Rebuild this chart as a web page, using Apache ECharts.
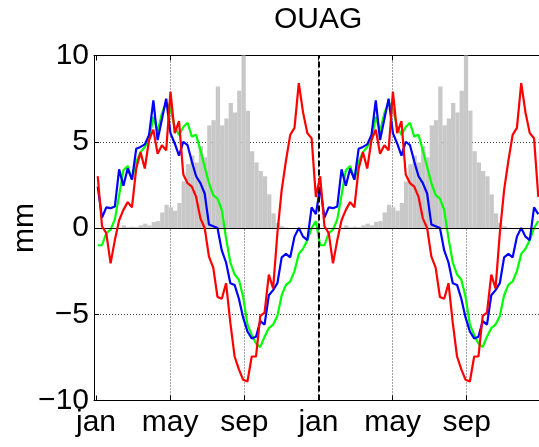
<!DOCTYPE html>
<html>
<head>
<meta charset="utf-8">
<script src="https://cdn.jsdelivr.net/npm/echarts@6/dist/echarts.min.js"></script>
<style>
  html, body { margin: 0; padding: 0; background: #fff; }
  #chart { width: 539px; height: 447px; }
</style>
</head>
<body>
<div id="chart"></div>
<script>
// Weekly climatology for one year (52 weeks); the annual cycle is shown twice.
const weeksPerYear = 52;
const yearsShown = 2;

// Rainfall (grey bars), weeks 1..52
const rainBars = [
  0, 0, 0, 0, 0, 0.03, 0.15, 0.05, 0.08, 0.05,
  0.15, 0.25, 0.15, 0.35, 0.4, 0.9, 1.35, 1.2, 1.0, 1.45,
  2.7, 3.7, 4.2, 3.8, 4.75, 4.1, 5.95, 6.25, 8.2, 5.95,
  6.35, 7.25, 6.7, 7.95, 10.0, 6.8, 4.45, 3.8, 3.3, 3.0,
  1.95, 0.85, 0.3, 0.1, 0.02, 0, 0, 0, 0, 0,
  0, 0
];

// Red curve
const redLine = [
  3.0, 0.1, -0.3, -2.05, -0.7, 0.45, 1.05, 1.5, 1.2, 3.45,
  4.4, 3.45, 5.1, 5.7, 4.3, 4.8, 4.5, 7.9, 5.5, 6.2,
  3.1, 2.6, 2.4, 1.8, 0.56, 0.0, -1.66, -2.3, -4.0, -4.1,
  -3.2, -5.5, -7.45, -8.2, -8.8, -8.9, -7.45, -7.45, -5.1, -4.9,
  -2.7, -3.5, -0.3, 2.2, 3.9, 5.4, 5.8, 8.4, 6.7, 5.5,
  5.2, 1.8
];

// Green curve
const greenLine = [
  -1.0, -1.0, -0.3, -0.1, 0.5, 1.9, 3.35, 3.6, 2.8, 3.85,
  4.4, 4.7, 5.1, 6.45, 5.6, 6.65, 7.3, 6.9, 5.85, 5.4,
  5.85, 6.1, 5.3, 5.4, 4.5, 3.55, 2.6, 1.9, 1.7, 1.05,
  -0.6, -2.0, -2.7, -3.0, -4.0, -5.6, -6.2, -6.7, -6.9, -6.3,
  -5.8, -5.6, -5.1, -3.9, -3.3, -3.1, -2.5, -1.5, -1.2, -0.7,
  0.0, 0.4
];

// Blue curve
const blueLine = [
  2.4, 0.6, 1.2, 1.15, 1.25, 3.4, 2.45, 3.45, 2.8, 4.6,
  4.7, 4.85, 5.4, 7.4, 5.1, 6.3, 7.5, 5.5, 4.9, 4.2,
  5.0, 4.8, 3.85, 3.0, 2.6, 2.0, 0.2, 0.1, 0.0, -1.3,
  -2.0, -3.2, -3.3, -4.1, -5.2, -6.0, -6.4, -6.3, -5.4, -5.6,
  -3.9, -3.6, -3.2, -1.7, -1.5, -1.7, -0.5, 0.0, -0.5, -0.7,
  1.2, 0.8
];

// Month ticks (axis unit: months since 1 January of the first year)
const monthTicks = [0, 4, 8, 12, 16, 20];
const monthLabels = ['jan', 'may', 'sep', 'jan', 'may', 'sep'];
const yTicks = [-10, -5, 0, 5, 10];

const weekToMonth = w => w * 12 / weeksPerYear;

function repeatYears(values, offset) {
  const out = [];
  for (let y = 0; y < yearsShown; y++) {
    values.forEach((v, i) => {
      out.push([weekToMonth(y * weeksPerYear + i + offset), v]);
    });
  }
  return out;
}

const fontFamily = '"Liberation Sans", Arial, Helvetica, sans-serif';
const fontSize = 30;
const gridColor = '#444';
const dotted = { color: gridColor, width: 1, type: [1, 2] };
// vertical grid: no dotted line on the first january (it sits on the box edge)
const dottedX = {
  color: monthTicks.map((m, k) => (k === 0 ? 'rgba(0,0,0,0)' : gridColor)),
  width: 1,
  type: [1, 2]
};

const chart = echarts.init(document.getElementById('chart'), null, { renderer: 'canvas' });

chart.setOption({
  animation: false,
  backgroundColor: '#fff',
  textStyle: { fontFamily: fontFamily },
  title: {
    text: 'OUAG',
    left: 274,
    top: 5,
    padding: 0,
    textStyle: { fontFamily: fontFamily, fontSize: fontSize, fontWeight: 'normal', color: '#000', lineHeight: fontSize }
  },
  grid: { left: 94, right: -3, top: 55.5, bottom: 46.5, containLabel: false, outerBoundsMode: 'none' },
  xAxis: [
    {
      type: 'value',
      position: 'bottom',
      min: -0.11,
      max: 24.06,
      axisLine: { show: true, onZero: false, lineStyle: { color: '#000', width: 1 } },
      axisTick: { show: true, inside: true, length: 5, customValues: monthTicks, lineStyle: { color: '#000' } },
      axisLabel: {
        show: true,
        customValues: monthTicks,
        margin: 7,
        fontSize: fontSize,
        lineHeight: fontSize,
        color: '#000',
        fontFamily: fontFamily,
        formatter: v => monthLabels[Math.round(v / 4)] || ''
      },
      splitLine: { show: true, lineStyle: dottedX }
    },
    {
      type: 'value',
      position: 'top',
      min: -0.11,
      max: 24.06,
      axisLine: { show: true, onZero: false, lineStyle: { color: '#000', width: 1 } },
      axisTick: { show: true, inside: true, length: 5, customValues: monthTicks, lineStyle: { color: '#000' } },
      axisLabel: { show: false },
      splitLine: { show: false }
    }
  ],
  yAxis: {
    type: 'value',
    min: yTicks[0],
    max: yTicks[yTicks.length - 1],
    interval: 5,
    name: 'mm',
    nameLocation: 'middle',
    nameGap: 54,
    nameMoveOverlap: false,
    nameTextStyle: { fontFamily: fontFamily, fontSize: fontSize, color: '#000', lineHeight: fontSize },
    axisLine: { show: true, onZero: false, lineStyle: { color: '#000', width: 1 } },
    axisTick: { show: true, inside: true, length: 5, lineStyle: { color: '#000' } },
    axisLabel: {
      margin: 5,
      fontSize: fontSize,
      lineHeight: fontSize,
      color: '#000',
      fontFamily: fontFamily,
      formatter: v => (v < 0 ? '\u2212' + Math.abs(v) : String(v))
    },
    splitLine: { show: true, lineStyle: dotted }
  },
  series: [
    {
      name: 'rain',
      type: 'bar',
      data: repeatYears(rainBars, 0.5),
      barWidth: 4.3,
      itemStyle: { color: '#c8c8c8' },
      z: 1,
      silent: true
    },
    {
      name: 'reference lines',
      type: 'line',
      data: [],
      z: 2,
      silent: true,
      markLine: {
        silent: true,
        symbol: ['none', 'none'],
        label: { show: false },
        animation: false,
        data: [
          { yAxis: 0, lineStyle: { color: '#000', width: 1.2, type: 'solid' } },
          { xAxis: 12, lineStyle: { color: '#000', width: 2, type: [6, 3] } }
        ]
      }
    },
    {
      name: 'green',
      type: 'line',
      data: repeatYears(greenLine, 0.4),
      showSymbol: false,
      lineStyle: { color: '#00ff00', width: 2.2 },
      z: 3,
      silent: true
    },
    {
      name: 'blue',
      type: 'line',
      data: repeatYears(blueLine, 0.4),
      showSymbol: false,
      lineStyle: { color: '#0000ff', width: 2.2 },
      z: 4,
      silent: true
    },
    {
      name: 'red',
      type: 'line',
      data: repeatYears(redLine, 0.4),
      showSymbol: false,
      lineStyle: { color: '#ff0000', width: 2.2 },
      z: 5,
      silent: true
    }
  ]
});
</script>
</body>
</html>
